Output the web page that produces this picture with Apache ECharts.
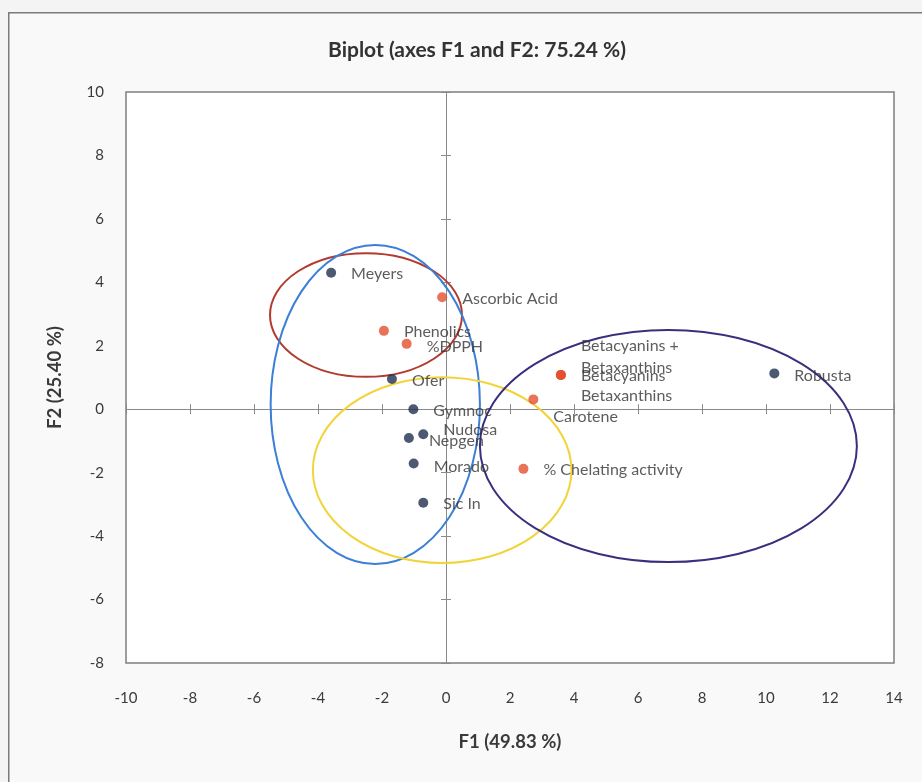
<!DOCTYPE html>
<html>
<head>
<meta charset="utf-8">
<script src="https://cdn.jsdelivr.net/npm/echarts@6/dist/echarts.min.js"></script>
<style>
html,body{margin:0;padding:0;background:#f3f4f3;}
#chart{width:922px;height:782px;}
</style>
</head>
<body>
<div id="chart"></div>
<script>
// ---- data ----
var obsNames = ['Meyers','Ofer','Gymnoc','Nudosa','Nepgen','Morado','Sic In','Robusta'];
var obsX = [-3.59,-1.69,-1.02,-0.71,-1.16,-1.01,-0.71,10.26];
var obsY = [4.30,0.95,0.00,-0.79,-0.91,-1.71,-2.95,1.13];

var varNames = ['Ascorbic Acid','Phenolics','%DPPH','% Chelating activity','Carotene','Betacyanins +\nBetaxanthins','Betacyanins','Betaxanthins'];
var varX = [-0.12,-1.94,-1.23,2.42,2.73,3.59,3.59,3.59];
var varY = [3.53,2.47,2.06,-1.88,0.31,1.08,1.08,1.08];

// ellipses: [centerX, centerY, radiusX, radiusY]
var ellipseRed = [-2.50, 2.97, 3.00, 1.95];
var ellipseBlue = [-2.21, 0.15, 3.27, 5.03];
var ellipseYellow = [-0.12, -1.92, 4.04, 2.93];
var ellipsePurple = [6.95, -1.16, 5.89, 3.66];

var xTicks = {min:-10, max:14, interval:2};
var yTicks = {min:-8, max:10, interval:2};

// ---- styles ----
var labelOffsets = {
  'Meyers':[0,1],'Ofer':[0,2],'Gymnoc':[0,2],'Nudosa':[0,-4],'Nepgen':[0,3],'Morado':[0,3],'Sic In':[0,1],'Robusta':[0,2],
  'Ascorbic Acid':[0,2],'Phenolics':[0,1],'%DPPH':[0,3],'% Chelating activity':[0,1],'Carotene':[0,17],
  'Betacyanins +\nBetaxanthins':[0,-18],'Betacyanins':[0,1],'Betaxanthins':[0,21]
};
var FONT = 'Lato, "Liberation Sans", sans-serif';
var labelColor = '#333333';

function pts(xs, ys, names){
  return names.map(function(n,i){
    return {name:n, value:[xs[i], ys[i]], label:{offset:labelOffsets[n]||[0,0]}};
  });
}

function ellipseSeries(e, color){
  return {
    type:'custom', xAxisIndex:0, yAxisIndex:0, silent:true, z:3,
    data:[e],
    renderItem:function(params, api){
      var c = api.coord([api.value(0), api.value(1)]);
      var s = api.size([api.value(2), api.value(3)]);
      var rx = s[0], ry = s[1], x = c[0], y = c[1];
      var d = 'M '+(x-rx)+' '+y+' A '+rx+' '+ry+' 0 1 0 '+(x+rx)+' '+y+' A '+rx+' '+ry+' 0 1 0 '+(x-rx)+' '+y+' Z';
      return {type:'path', shape:{pathData:d}, style:{fill:'none', stroke:color, lineWidth:2}};
    }
  };
}

var axisLabelStyle = {color:'#3a3a3a', fontSize:15, fontFamily:FONT};
var nameStyle = {color:'#3a3a3a', fontSize:18.5, fontWeight:'bold', fontFamily:FONT};

function zeroAxis(t, pos, extra){
  return Object.assign({
    type:'value', min:t.min, max:t.max, interval:t.interval, position:pos,
    axisLine:{show:true, onZero:true, lineStyle:{color:'#8a8a8a', width:1}},
    axisTick:{show:true, inside:false, length:5, lineStyle:{color:'#8a8a8a', width:1}},
    axisLabel:{show:false}, splitLine:{show:false}
  }, extra||{});
}

var chart = echarts.init(document.getElementById('chart'), null, {renderer:'canvas'});
chart.setOption({
  animation:false,
  backgroundColor:'#f3f4f3',
  graphic:[{type:'rect', left:8, top:12, shape:{width:930, height:790}, style:{fill:'#f8f9f8', stroke:'#7a7a7a', lineWidth:1.5}, z:-10}],
  title:{text:'Biplot (axes F1 and F2: 75.24 %)', left:472, top:35, textAlign:'center',
    textStyle:{fontSize:21, fontWeight:'bold', color:'#333', fontFamily:FONT}},
  grid:{left:126, top:92, right:28, bottom:119, show:true, backgroundColor:'#ffffff', borderColor:'#7f7f7f', borderWidth:1.5},
  xAxis:[
    {type:'value', min:xTicks.min, max:xTicks.max, interval:xTicks.interval, position:'bottom',
      axisLine:{show:false, onZero:false}, axisTick:{show:false}, splitLine:{show:false},
      axisLabel:Object.assign({margin:28}, axisLabelStyle),
      name:'F1 (49.83 %)', nameLocation:'middle', nameGap:70, nameTextStyle:nameStyle},
    zeroAxis(xTicks,'bottom'),
    zeroAxis(xTicks,'top',{axisLine:{show:false,onZero:true}})
  ],
  yAxis:[
    {type:'value', min:yTicks.min, max:yTicks.max, interval:yTicks.interval, position:'left',
      axisLine:{show:false, onZero:false}, axisTick:{show:false}, splitLine:{show:false},
      axisLabel:Object.assign({margin:22}, axisLabelStyle),
      name:'F2 (25.40 %)', nameLocation:'middle', nameGap:61, nameTextStyle:nameStyle},
    zeroAxis(yTicks,'left'),
    zeroAxis(yTicks,'right',{axisLine:{show:false,onZero:true}})
  ],
  series:[
    ellipseSeries(ellipseRed,'#b23a2f'),
    ellipseSeries(ellipseBlue,'#3b7fd6'),
    ellipseSeries(ellipseYellow,'#f2d43a'),
    ellipseSeries(ellipsePurple,'#3a2f7e'),
    {type:'scatter', xAxisIndex:0, yAxisIndex:0, z:5, symbolSize:10,
      itemStyle:{color:'#e2502f'},
      label:{show:true, position:'right', distance:15, formatter:'{b}', color:labelColor, fontSize:16, fontFamily:FONT, lineHeight:22},
      data:pts(varX, varY, varNames)},
    {type:'scatter', xAxisIndex:0, yAxisIndex:0, z:5, symbolSize:10,
      itemStyle:{color:'#1f2f4e'},
      label:{show:true, position:'right', distance:15, formatter:'{b}', color:labelColor, fontSize:16, fontFamily:FONT},
      data:pts(obsX, obsY, obsNames)}
  ]
});
</script>
</body>
</html>
